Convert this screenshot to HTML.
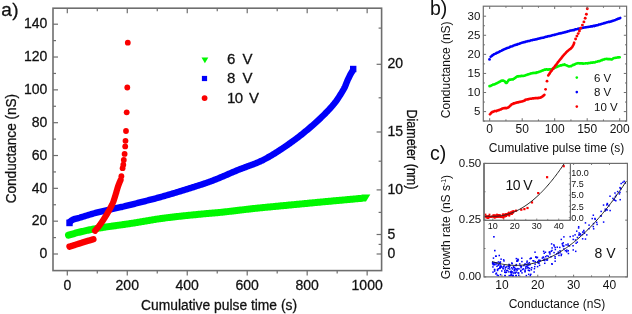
<!DOCTYPE html>
<html><head><meta charset="utf-8"><style>
html,body{margin:0;padding:0;background:#fff;}
svg{display:block;will-change:transform;}
text{font-family:"Liberation Sans",sans-serif;fill:#111;stroke:#111;stroke-width:0;}
.sa{stroke-width:0.28px;}
.sc{stroke-width:0.12px;}
</style></head><body>
<svg width="632" height="314" viewBox="0 0 632 314">
<rect width="632" height="314" fill="#fff"/>
<polyline points="68.5,235.2 69.46,234.91 70.41,234.62 71.37,234.34 72.33,234.06 73.29,233.78 74.25,233.51 75.22,233.24 76.18,232.98 77.14,232.72 78.11,232.47 79.08,232.23 80.05,231.99 81.02,231.75 81.99,231.52 82.96,231.3 83.93,231.07 84.91,230.85 85.88,230.63 86.86,230.42 87.84,230.21 88.81,230 89.79,229.79 90.77,229.59 91.75,229.4 92.73,229.21 93.71,229.02 94.69,228.84 95.68,228.66 96.66,228.48 97.64,228.31 98.62,228.15 99.61,227.98 100.59,227.82 101.58,227.67 102.56,227.51 103.55,227.36 104.54,227.21 105.52,227.06 106.51,226.91 107.5,226.77 108.49,226.63 109.48,226.49 110.47,226.35 111.46,226.21 112.45,226.07 113.44,225.94 114.43,225.8 115.42,225.66 116.41,225.53 117.4,225.39 118.39,225.26 119.38,225.12 120.37,224.99 121.36,224.85 122.35,224.71 123.34,224.57 124.33,224.43 125.32,224.29 126.3,224.15 127.29,224.01 128.28,223.86 129.27,223.71 130.26,223.56 131.24,223.41 132.23,223.25 133.22,223.1 134.2,222.94 135.19,222.78 136.17,222.61 137.16,222.45 138.14,222.28 139.13,222.12 140.11,221.95 141.1,221.79 142.08,221.62 143.07,221.45 144.05,221.28 145.04,221.11 146.02,220.95 147.01,220.78 147.99,220.61 148.98,220.45 149.97,220.28 150.95,220.12 151.94,219.95 152.92,219.79 153.91,219.63 154.89,219.47 155.88,219.32 156.87,219.16 157.85,219.01 158.84,218.86 159.83,218.72 160.82,218.57 161.8,218.43 162.79,218.29 163.78,218.16 164.77,218.03 165.76,217.9 166.75,217.78 167.74,217.65 168.73,217.53 169.72,217.41 170.71,217.29 171.7,217.17 172.7,217.05 173.69,216.94 174.68,216.82 175.67,216.71 176.66,216.6 177.66,216.49 178.65,216.38 179.64,216.27 180.64,216.16 181.63,216.05 182.62,215.95 183.62,215.84 184.61,215.74 185.6,215.64 186.6,215.53 187.59,215.43 188.58,215.33 189.58,215.23 190.57,215.13 191.57,215.03 192.56,214.93 193.55,214.83 194.55,214.73 195.54,214.64 196.54,214.54 197.53,214.44 198.53,214.34 199.52,214.25 200.51,214.15 201.51,214.06 202.5,213.96 203.5,213.87 204.49,213.78 205.49,213.69 206.48,213.61 207.48,213.52 208.47,213.44 209.47,213.35 210.46,213.27 211.46,213.18 212.45,213.09 213.45,213.01 214.44,212.92 215.44,212.83 216.43,212.74 217.43,212.65 218.42,212.55 219.41,212.46 220.41,212.36 221.4,212.26 222.39,212.16 223.39,212.05 224.38,211.94 225.37,211.84 226.36,211.73 227.36,211.62 228.35,211.5 229.34,211.39 230.33,211.27 231.33,211.16 232.32,211.04 233.31,210.92 234.3,210.81 235.29,210.69 236.28,210.57 237.28,210.45 238.27,210.33 239.26,210.21 240.25,210.09 241.24,209.97 242.23,209.85 243.23,209.74 244.22,209.62 245.21,209.5 246.2,209.38 247.19,209.27 248.19,209.15 249.18,209.04 250.17,208.93 251.16,208.82 252.16,208.71 253.15,208.6 254.14,208.49 255.13,208.39 256.13,208.28 257.12,208.18 258.11,208.08 259.11,207.98 260.1,207.87 261.1,207.77 262.09,207.67 263.08,207.58 264.08,207.48 265.07,207.38 266.06,207.28 267.06,207.18 268.05,207.09 269.05,206.99 270.04,206.9 271.03,206.8 272.03,206.71 273.02,206.61 274.02,206.52 275.01,206.42 276.01,206.33 277,206.23 277.99,206.14 278.99,206.05 279.98,205.95 280.98,205.86 281.97,205.76 282.97,205.67 283.96,205.58 284.95,205.48 285.95,205.39 286.94,205.29 287.94,205.2 288.93,205.1 289.93,205.01 290.92,204.91 291.91,204.82 292.91,204.72 293.9,204.63 294.9,204.53 295.89,204.43 296.88,204.34 297.88,204.24 298.87,204.15 299.87,204.05 300.86,203.96 301.86,203.86 302.85,203.77 303.84,203.67 304.84,203.58 305.83,203.48 306.83,203.39 307.82,203.29 308.81,203.2 309.81,203.1 310.8,203.01 311.8,202.91 312.79,202.82 313.79,202.72 314.78,202.63 315.77,202.53 316.77,202.44 317.76,202.35 318.76,202.25 319.75,202.16 320.75,202.06 321.74,201.97 322.73,201.88 323.73,201.78 324.72,201.69 325.72,201.6 326.71,201.51 327.71,201.41 328.7,201.32 329.69,201.23 330.69,201.14 331.68,201.04 332.68,200.95 333.67,200.86 334.67,200.77 335.66,200.68 336.66,200.59 337.65,200.5 338.65,200.41 339.64,200.32 340.64,200.24 341.63,200.15 342.63,200.06 343.62,199.97 344.61,199.88 345.61,199.79 346.6,199.7 347.6,199.61 348.59,199.52 349.59,199.42 350.58,199.33 351.58,199.24 352.57,199.15 353.56,199.05 354.56,198.96 355.55,198.86 356.55,198.77 357.54,198.67 358.54,198.58 359.53,198.48 360.52,198.39" fill="none" stroke="#00f800" stroke-width="7.0" stroke-linecap="round" stroke-linejoin="round"/>
<polygon points="361.5,194.4 370.3,194.4 366.0,201.6 361.5,201.6" fill="#00f800"/>
<polyline points="69.5,222.2 70.34,221.42 71.22,220.69 72.13,220.06 73.08,219.56 74.09,219.17 75.14,218.84 76.22,218.55 77.32,218.28 78.43,218.02 79.52,217.74 80.59,217.43 81.66,217.11 82.73,216.78 83.79,216.45 84.86,216.12 85.92,215.79 86.99,215.46 88.05,215.13 89.12,214.79 90.18,214.47 91.25,214.15 92.32,213.83 93.39,213.52 94.46,213.22 95.53,212.92 96.61,212.64 97.68,212.37 98.76,212.1 99.84,211.83 100.93,211.57 102.01,211.31 103.1,211.06 104.18,210.81 105.27,210.57 106.36,210.33 107.45,210.09 108.53,209.85 109.62,209.61 110.71,209.38 111.8,209.14 112.89,208.91 113.98,208.67 115.08,208.44 116.17,208.2 117.25,207.97 118.34,207.73 119.43,207.49 120.52,207.24 121.61,207 122.69,206.75 123.78,206.49 124.86,206.23 125.95,205.97 127.03,205.71 128.11,205.44 129.19,205.17 130.27,204.9 131.35,204.62 132.43,204.35 133.51,204.07 134.59,203.79 135.67,203.52 136.75,203.24 137.83,202.96 138.91,202.68 139.99,202.4 141.06,202.13 142.14,201.85 143.22,201.58 144.3,201.3 145.39,201.03 146.47,200.75 147.55,200.48 148.63,200.2 149.71,199.93 150.78,199.65 151.86,199.37 152.94,199.09 154.02,198.81 155.1,198.53 156.17,198.24 157.25,197.95 158.33,197.66 159.4,197.37 160.47,197.07 161.55,196.77 162.62,196.47 163.69,196.16 164.76,195.86 165.83,195.55 166.9,195.24 167.97,194.93 169.04,194.62 170.11,194.3 171.18,193.99 172.25,193.67 173.32,193.35 174.38,193.03 175.45,192.71 176.52,192.38 177.58,192.06 178.65,191.73 179.72,191.41 180.78,191.08 181.85,190.75 182.91,190.42 183.98,190.09 185.04,189.76 186.1,189.42 187.17,189.09 188.23,188.76 189.29,188.42 190.35,188.09 191.42,187.75 192.48,187.42 193.54,187.08 194.61,186.75 195.67,186.41 196.73,186.07 197.8,185.73 198.86,185.39 199.92,185.05 200.98,184.7 202.04,184.35 203.1,184 204.15,183.65 205.21,183.29 206.26,182.93 207.31,182.56 208.36,182.19 209.41,181.81 210.45,181.43 211.5,181.05 212.54,180.65 213.57,180.25 214.61,179.85 215.65,179.44 216.68,179.02 217.71,178.6 218.74,178.18 219.77,177.75 220.8,177.32 221.82,176.88 222.85,176.45 223.87,176.01 224.9,175.57 225.92,175.13 226.95,174.69 227.97,174.25 229,173.81 230.02,173.36 231.05,172.92 232.07,172.49 233.1,172.05 234.13,171.61 235.15,171.18 236.18,170.75 237.21,170.33 238.24,169.91 239.28,169.49 240.31,169.08 241.35,168.67 242.4,168.27 243.44,167.88 244.49,167.5 245.55,167.12 246.6,166.74 247.65,166.36 248.71,165.98 249.76,165.6 250.81,165.22 251.86,164.84 252.91,164.45 253.95,164.05 254.98,163.64 256.02,163.23 257.04,162.81 258.06,162.37 259.07,161.93 260.07,161.47 261.07,160.99 262.06,160.51 263.05,160.02 264.03,159.51 265.02,159 266,158.48 266.98,157.95 267.95,157.41 268.93,156.86 269.89,156.31 270.86,155.75 271.83,155.18 272.79,154.6 273.74,154.02 274.7,153.43 275.65,152.84 276.6,152.24 277.55,151.64 278.49,151.03 279.43,150.41 280.37,149.8 281.3,149.18 282.23,148.55 283.16,147.93 284.09,147.3 285.01,146.67 285.93,146.04 286.85,145.4 287.76,144.77 288.67,144.13 289.58,143.5 290.48,142.86 291.39,142.22 292.29,141.57 293.19,140.92 294.09,140.27 294.98,139.61 295.87,138.94 296.77,138.27 297.66,137.6 298.54,136.92 299.43,136.24 300.31,135.55 301.19,134.86 302.07,134.17 302.94,133.47 303.81,132.77 304.68,132.06 305.55,131.36 306.41,130.64 307.27,129.93 308.13,129.21 308.99,128.48 309.84,127.76 310.68,127.03 311.53,126.3 312.37,125.56 313.21,124.82 314.04,124.08 314.87,123.34 315.7,122.59 316.52,121.84 317.34,121.09 318.16,120.33 318.97,119.57 319.77,118.81 320.58,118.05 321.38,117.29 322.18,116.51 322.98,115.74 323.78,114.96 324.58,114.17 325.37,113.38 326.16,112.58 326.94,111.78 327.72,110.97 328.49,110.16 329.25,109.34 330.01,108.52 330.76,107.69 331.5,106.85 332.23,106.01 332.95,105.16 333.66,104.31 334.36,103.45 335.05,102.58 335.73,101.7 336.38,100.81 337.02,99.9 337.65,98.98 338.27,98.05 338.87,97.11 339.47,96.16 340.06,95.22 340.66,94.27 341.25,93.33 341.84,92.38 342.43,91.43 343,90.47 343.55,89.5 344.08,88.52 344.58,87.53 345.05,86.53 345.48,85.5 345.9,84.47 346.3,83.43 346.71,82.39 347.13,81.35 347.58,80.33 348.03,79.32 348.5,78.3 348.98,77.29 349.47,76.29 349.98,75.3 350.5,74.32 351.04,73.35 351.61,72.39 352.2,71.44 352.8,70.5" fill="none" stroke="#0000fa" stroke-width="6.4" stroke-linecap="butt" stroke-linejoin="round"/>
<rect x="350.0" y="65.8" width="6.4" height="6.4" fill="#0000fa"/>
<rect x="66.3" y="219.6" width="6.4" height="6.6" fill="#0000fa"/>
<polyline points="69.5,246.6 69.9,246.47 70.31,246.35 70.71,246.22 71.12,246.09 71.52,245.97 71.93,245.84 72.33,245.71 72.74,245.59 73.14,245.46 73.55,245.33 73.95,245.21 74.36,245.08 74.76,244.95 75.17,244.83 75.57,244.7 75.98,244.57 76.38,244.45 76.79,244.32 77.19,244.2 77.6,244.07 78,243.94 78.41,243.82 78.81,243.69 79.22,243.57 79.62,243.44 80.03,243.32 80.43,243.19 80.84,243.07 81.24,242.94 81.65,242.81 82.05,242.69 82.46,242.56 82.86,242.44 83.27,242.31 83.67,242.19 84.08,242.06 84.48,241.94 84.89,241.81 85.29,241.69 85.7,241.56 86.1,241.44 86.51,241.31 86.91,241.19 87.32,241.06 87.72,240.94 88.13,240.81 88.53,240.69 88.94,240.57 89.35,240.44 89.75,240.32 90.16,240.19 90.56,240.07 90.97,239.94 91.37,239.82 91.78,239.7 92.18,239.57 92.59,239.45 92.99,239.32 93.4,239.2" fill="none" stroke="#fa0000" stroke-width="6.4" stroke-linecap="round" stroke-linejoin="round"/>
<polyline points="95,230.8 95.49,230.26 95.97,229.71 96.45,229.16 96.92,228.61 97.39,228.05 97.85,227.49 98.31,226.93 98.76,226.36 99.21,225.78 99.64,225.21 100.08,224.63 100.5,224.04 100.92,223.45 101.34,222.85 101.74,222.25 102.15,221.64 102.55,221.04 102.95,220.43 103.34,219.81 103.74,219.2 104.13,218.59 104.52,217.98 104.9,217.36 105.29,216.75 105.68,216.13 106.07,215.51 106.45,214.9 106.83,214.28 107.21,213.65 107.58,213.03 107.95,212.4 108.31,211.77 108.67,211.14 109.02,210.51 109.37,209.87 109.71,209.23 110.06,208.59 110.4,207.95 110.74,207.3 111.07,206.65 111.4,206 111.72,205.35 112.03,204.69 112.34,204.03 112.63,203.36 112.92,202.7 113.19,202.03 113.45,201.35 113.69,200.67 113.93,199.99 114.16,199.3 114.38,198.6 114.6,197.91 114.82,197.21 115.03,196.52 115.25,195.82 115.46,195.12 115.68,194.43 115.89,193.73 116.09,193.04 116.29,192.34 116.49,191.64 116.69,190.94 116.89,190.24 117.09,189.54 117.3,188.84 117.5,188.15 117.72,187.45 117.94,186.76 118.17,186.07 118.42,185.39 118.66,184.71 118.92,184.03 119.19,183.35 119.46,182.68 119.74,182.01 120.02,181.34 120.31,180.67 120.6,180" fill="none" stroke="#fa0000" stroke-width="6.2" stroke-linecap="round" stroke-linejoin="round"/>
<circle cx="121.4" cy="176.2" r="2.9" fill="#fa0000"/>
<circle cx="122.6" cy="168.2" r="2.9" fill="#fa0000"/>
<circle cx="123.3" cy="164.7" r="2.9" fill="#fa0000"/>
<circle cx="123.8" cy="159.9" r="2.9" fill="#fa0000"/>
<circle cx="124.6" cy="153.9" r="2.9" fill="#fa0000"/>
<circle cx="125.2" cy="146.4" r="2.9" fill="#fa0000"/>
<circle cx="125.5" cy="140.8" r="2.9" fill="#fa0000"/>
<circle cx="126" cy="131" r="2.9" fill="#fa0000"/>
<circle cx="126.7" cy="112.3" r="2.9" fill="#fa0000"/>
<circle cx="127.3" cy="87.5" r="2.9" fill="#fa0000"/>
<circle cx="127.8" cy="42.7" r="2.9" fill="#fa0000"/>
<rect x="53.0" y="8.2" width="328.6" height="262.4" fill="none" stroke="#6e6e6e" stroke-width="1.6"/>
<line x1="53" y1="254" x2="58" y2="254" stroke="#6e6e6e" stroke-width="1.2"/>
<line x1="53" y1="237.59" x2="56" y2="237.59" stroke="#6e6e6e" stroke-width="1.2"/>
<line x1="53" y1="221.17" x2="58" y2="221.17" stroke="#6e6e6e" stroke-width="1.2"/>
<line x1="53" y1="204.76" x2="56" y2="204.76" stroke="#6e6e6e" stroke-width="1.2"/>
<line x1="53" y1="188.34" x2="58" y2="188.34" stroke="#6e6e6e" stroke-width="1.2"/>
<line x1="53" y1="171.93" x2="56" y2="171.93" stroke="#6e6e6e" stroke-width="1.2"/>
<line x1="53" y1="155.52" x2="58" y2="155.52" stroke="#6e6e6e" stroke-width="1.2"/>
<line x1="53" y1="139.1" x2="56" y2="139.1" stroke="#6e6e6e" stroke-width="1.2"/>
<line x1="53" y1="122.69" x2="58" y2="122.69" stroke="#6e6e6e" stroke-width="1.2"/>
<line x1="53" y1="106.27" x2="56" y2="106.27" stroke="#6e6e6e" stroke-width="1.2"/>
<line x1="53" y1="89.86" x2="58" y2="89.86" stroke="#6e6e6e" stroke-width="1.2"/>
<line x1="53" y1="73.45" x2="56" y2="73.45" stroke="#6e6e6e" stroke-width="1.2"/>
<line x1="53" y1="57.03" x2="58" y2="57.03" stroke="#6e6e6e" stroke-width="1.2"/>
<line x1="53" y1="40.62" x2="56" y2="40.62" stroke="#6e6e6e" stroke-width="1.2"/>
<line x1="53" y1="24.2" x2="58" y2="24.2" stroke="#6e6e6e" stroke-width="1.2"/>
<line x1="67.3" y1="270.6" x2="67.3" y2="275.6" stroke="#6e6e6e" stroke-width="1.2"/>
<line x1="67.3" y1="8.2" x2="67.3" y2="13.2" stroke="#6e6e6e" stroke-width="1.2"/>
<line x1="97.28" y1="270.6" x2="97.28" y2="273.6" stroke="#6e6e6e" stroke-width="1.2"/>
<line x1="97.28" y1="8.2" x2="97.28" y2="11.2" stroke="#6e6e6e" stroke-width="1.2"/>
<line x1="127.27" y1="270.6" x2="127.27" y2="275.6" stroke="#6e6e6e" stroke-width="1.2"/>
<line x1="127.27" y1="8.2" x2="127.27" y2="13.2" stroke="#6e6e6e" stroke-width="1.2"/>
<line x1="157.25" y1="270.6" x2="157.25" y2="273.6" stroke="#6e6e6e" stroke-width="1.2"/>
<line x1="157.25" y1="8.2" x2="157.25" y2="11.2" stroke="#6e6e6e" stroke-width="1.2"/>
<line x1="187.24" y1="270.6" x2="187.24" y2="275.6" stroke="#6e6e6e" stroke-width="1.2"/>
<line x1="187.24" y1="8.2" x2="187.24" y2="13.2" stroke="#6e6e6e" stroke-width="1.2"/>
<line x1="217.23" y1="270.6" x2="217.23" y2="273.6" stroke="#6e6e6e" stroke-width="1.2"/>
<line x1="217.23" y1="8.2" x2="217.23" y2="11.2" stroke="#6e6e6e" stroke-width="1.2"/>
<line x1="247.21" y1="270.6" x2="247.21" y2="275.6" stroke="#6e6e6e" stroke-width="1.2"/>
<line x1="247.21" y1="8.2" x2="247.21" y2="13.2" stroke="#6e6e6e" stroke-width="1.2"/>
<line x1="277.19" y1="270.6" x2="277.19" y2="273.6" stroke="#6e6e6e" stroke-width="1.2"/>
<line x1="277.19" y1="8.2" x2="277.19" y2="11.2" stroke="#6e6e6e" stroke-width="1.2"/>
<line x1="307.18" y1="270.6" x2="307.18" y2="275.6" stroke="#6e6e6e" stroke-width="1.2"/>
<line x1="307.18" y1="8.2" x2="307.18" y2="13.2" stroke="#6e6e6e" stroke-width="1.2"/>
<line x1="337.17" y1="270.6" x2="337.17" y2="273.6" stroke="#6e6e6e" stroke-width="1.2"/>
<line x1="337.17" y1="8.2" x2="337.17" y2="11.2" stroke="#6e6e6e" stroke-width="1.2"/>
<line x1="367.15" y1="270.6" x2="367.15" y2="275.6" stroke="#6e6e6e" stroke-width="1.2"/>
<line x1="367.15" y1="8.2" x2="367.15" y2="13.2" stroke="#6e6e6e" stroke-width="1.2"/>
<line x1="376.6" y1="254" x2="381.6" y2="254" stroke="#6e6e6e" stroke-width="1.2"/>
<line x1="376.6" y1="234.5" x2="381.6" y2="234.5" stroke="#6e6e6e" stroke-width="1.2"/>
<line x1="376.6" y1="189.9" x2="381.6" y2="189.9" stroke="#6e6e6e" stroke-width="1.2"/>
<line x1="376.6" y1="132" x2="381.6" y2="132" stroke="#6e6e6e" stroke-width="1.2"/>
<line x1="376.6" y1="64.3" x2="381.6" y2="64.3" stroke="#6e6e6e" stroke-width="1.2"/>
<line x1="378.6" y1="244.4" x2="381.6" y2="244.4" stroke="#6e6e6e" stroke-width="1.2"/>
<line x1="378.6" y1="212.4" x2="381.6" y2="212.4" stroke="#6e6e6e" stroke-width="1.2"/>
<line x1="378.6" y1="161.2" x2="381.6" y2="161.2" stroke="#6e6e6e" stroke-width="1.2"/>
<line x1="378.6" y1="97.8" x2="381.6" y2="97.8" stroke="#6e6e6e" stroke-width="1.2"/>
<line x1="378.6" y1="28.1" x2="381.6" y2="28.1" stroke="#6e6e6e" stroke-width="1.2"/>
<text class="sa" x="47.4" y="258.2" font-size="14" text-anchor="end" >0</text>
<text class="sa" x="47.4" y="225.37" font-size="14" text-anchor="end" >20</text>
<text class="sa" x="47.4" y="192.54" font-size="14" text-anchor="end" >40</text>
<text class="sa" x="47.4" y="159.72" font-size="14" text-anchor="end" >60</text>
<text class="sa" x="47.4" y="126.89" font-size="14" text-anchor="end" >80</text>
<text class="sa" x="47.4" y="94.06" font-size="14" text-anchor="end" >100</text>
<text class="sa" x="47.4" y="61.23" font-size="14" text-anchor="end" >120</text>
<text class="sa" x="47.4" y="28.4" font-size="14" text-anchor="end" >140</text>
<text class="sa" x="67.3" y="290.4" font-size="14" text-anchor="middle" >0</text>
<text class="sa" x="127.27" y="290.4" font-size="14" text-anchor="middle" >200</text>
<text class="sa" x="187.24" y="290.4" font-size="14" text-anchor="middle" >400</text>
<text class="sa" x="247.21" y="290.4" font-size="14" text-anchor="middle" >600</text>
<text class="sa" x="307.18" y="290.4" font-size="14" text-anchor="middle" >800</text>
<text class="sa" x="367.15" y="290.4" font-size="14" text-anchor="middle" >1000</text>
<text class="sa" x="387.4" y="258" font-size="14" text-anchor="start" >0</text>
<text class="sa" x="387.4" y="238.5" font-size="14" text-anchor="start" >5</text>
<text class="sa" x="387.4" y="193.9" font-size="14" text-anchor="start" >10</text>
<text class="sa" x="387.4" y="136" font-size="14" text-anchor="start" >15</text>
<text class="sa" x="387.4" y="68.3" font-size="14" text-anchor="start" >20</text>
<text class="sa" x="141" y="309.9" font-size="14" text-anchor="start" textLength="156" lengthAdjust="spacingAndGlyphs">Cumulative pulse time (s)</text>
<text class="sa" x="0" y="0" font-size="14" text-anchor="middle" textLength="109.5" lengthAdjust="spacingAndGlyphs" transform="translate(16.3,148.6) rotate(-90)">Conductance (nS)</text>
<text class="sa" x="0" y="0" font-size="14" text-anchor="middle" textLength="80" lengthAdjust="spacingAndGlyphs" transform="translate(407.3,149.45) rotate(90)">Diameter (nm)</text>
<text class="sa" x="1.2" y="15.9" font-size="19" text-anchor="start" letter-spacing="0.6">a)</text>
<polygon points="201.5,57.4 208.3,57.4 204.9,63.2" fill="#00f800"/>
<rect x="201.9" y="75.9" width="5.2" height="5.2" fill="#0000fa"/>
<circle cx="204.6" cy="98.1" r="2.9" fill="#fa0000"/>
<text class="sa" x="227" y="64.4" font-size="15" text-anchor="start" word-spacing="3">6 V</text>
<text class="sa" x="227" y="83.4" font-size="15" text-anchor="start" word-spacing="3">8 V</text>
<text class="sa" x="227" y="103" font-size="15" text-anchor="start" word-spacing="3" textLength="32">10 V</text>
<polyline points="490.7,56.7 491.38,56.21 492.07,55.63 492.77,55.07 493.49,54.66 494.21,54.16 494.95,53.87 495.71,53.62 496.47,53.02 497.25,52.63 498.02,52.4 498.79,52.01 499.56,51.61 500.33,51.12 501.1,50.87 501.88,50.59 502.65,49.99 503.43,49.75 504.21,49.23 505,48.96 505.78,48.55 506.57,48.42 507.36,47.97 508.15,47.83 508.94,47.51 509.73,47.15 510.53,46.56 511.32,46.49 512.12,46.24 512.92,45.96 513.72,45.46 514.52,45.29 515.33,44.93 516.13,44.66 516.94,44.6 517.75,44.1 518.56,43.91 519.37,43.75 520.18,43.31 520.99,43.1 521.8,42.87 522.62,42.62 523.43,42.22 524.25,42.14 525.07,42.06 525.89,41.49 526.71,41.56 527.54,41.25 528.36,40.95 529.19,41.06 530.02,40.71 530.85,40.28 531.68,40.23 532.51,40.1 533.35,39.82 534.18,39.73 535.02,39.46 535.85,39.36 536.68,39.26 537.52,38.82 538.35,38.74 539.19,38.47 540.02,38.35 540.85,38 541.69,37.88 542.52,37.73 543.35,37.67 544.18,37.49 545.01,36.99 545.84,36.85 546.67,36.82 547.49,36.3 548.32,36.27 549.15,36.11 549.98,36.06 550.81,35.79 551.64,35.46 552.46,35.24 553.29,35.05 554.12,35.05 554.95,34.61 555.77,34.42 556.6,34.29 557.43,34.02 558.26,33.8 559.09,33.49 559.91,33.41 560.74,33.15 561.57,33.14 562.4,32.87 563.23,32.59 564.06,32.47 564.89,32.14 565.72,32.1 566.54,31.76 567.37,31.62 568.2,31.19 569.03,31.17 569.86,30.71 570.68,30.46 571.51,30.45 572.34,30.17 573.17,30.09 574,30.13 574.83,29.55 575.65,29.37 576.48,29.27 577.31,29.1 578.15,28.82 578.98,28.63 579.81,28.55 580.64,28.34 581.48,27.98 582.31,27.92 583.15,27.77 583.98,27.48 584.82,27.48 585.66,27.21 586.51,27.3 587.35,27.08 588.2,26.94 589.05,26.74 589.9,26.68 590.74,26.33 591.58,26.3 592.43,26.34 593.26,25.89 594.1,26.08 594.93,25.59 595.76,25.69 596.58,25.28 597.4,25.25 598.22,24.93 599.04,24.49 599.86,24.57 600.68,24.35 601.5,23.92 602.32,23.64 603.14,23.42 603.96,23.09 604.79,23.12 605.62,22.71 606.45,22.57 607.28,22.27 608.11,22.09 608.94,21.8 609.76,21.89 610.59,21.5 611.4,21.4 612.22,21.03 613.03,20.69 613.84,20.46 614.64,20.15 615.44,19.93 616.24,19.58 617.04,19.28 617.83,18.84 618.63,18.58 619.41,18.54 620.2,17.92" fill="none" stroke="#0000fa" stroke-width="2.6" stroke-linecap="round" stroke-linejoin="round"/>
<circle cx="489.5" cy="59.4" r="1.4" fill="#0000fa"/>
<polyline points="489.5,86.14 490.14,86.09 490.78,85.98 491.42,85.29 492.07,85.21 492.71,84.88 493.35,84.44 493.99,84.55 494.63,84.17 495.27,83.92 495.91,83.53 496.55,83.44 497.18,83.01 497.82,82.79 498.45,82.36 499.08,82 499.7,81.99 500.31,81.31 500.93,81.06 501.55,80.71 502.18,80.47 502.82,80.44 503.5,80.8 504.15,80.97 504.74,81.35 505.26,81.95 505.76,82.75 506.23,83.07 506.7,82.97 507.14,82.39 507.56,81.61 507.97,81.2 508.41,80.48 508.89,79.78 509.42,79.66 510.05,79.62 510.76,79.58 511.5,79.55 512.23,79.29 512.88,79.49 513.5,78.83 514.08,78.76 514.65,78.24 515.21,77.8 515.78,77.49 516.37,77.06 516.98,76.43 517.63,76.23 518.29,76.51 518.97,76.15 519.67,76.24 520.37,76.31 521.08,75.88 521.79,75.75 522.5,76.04 523.19,75.93 523.88,75.78 524.55,75.7 525.21,75.39 525.87,75.08 526.53,75.05 527.18,74.68 527.84,74.32 528.49,74.39 529.14,74.06 529.8,73.91 530.47,73.51 531.14,73.4 531.82,73.21 532.5,73.1 533.19,73.15 533.88,72.89 534.57,72.96 535.26,72.85 535.94,72.99 536.63,72.35 537.31,72.56 537.98,72.27 538.64,72.1 539.29,71.66 539.94,71.54 540.58,71.42 541.22,70.99 541.86,70.72 542.5,70.39 543.15,70.38 543.81,70.03 544.48,69.6 545.16,69.74 545.85,69.47 546.55,69.22 547.25,69.58 547.95,69.81 548.65,69.56 549.34,69.31 550.03,69.26 550.7,69.47 551.36,69.18 552.01,68.96 552.66,68.7 553.3,68.43 553.94,68.25 554.57,67.91 555.21,67.56 555.85,67.09 556.5,67.08 557.16,66.66 557.82,66.66 558.48,66.04 559.14,65.94 559.81,65.69 560.47,65.24 561.14,65.47 561.8,65.24 562.47,64.79 563.14,64.87 563.8,64.76 564.46,64.34 565.13,64.92 565.79,65.12 566.46,65.43 567.13,65.55 567.79,65.94 568.45,66.16 569.12,66.47 569.77,66.33 570.43,66.17 571.08,66.21 571.73,65.66 572.38,65.39 573.03,64.86 573.68,65.03 574.33,64.6 574.99,64.27 575.64,63.94 576.3,63.6 576.96,63.41 577.63,63.21 578.3,63.17 578.98,63.23 579.67,63.49 580.36,63.4 581.06,63.38 581.76,63.36 582.45,63.39 583.15,63.74 583.84,63.57 584.53,63.48 585.23,63.39 585.92,63.23 586.61,63.33 587.31,63.41 588,63.15 588.69,63.09 589.39,63.01 590.08,62.97 590.76,62.63 591.45,62.74 592.13,62.55 592.82,62.72 593.5,62.36 594.17,62.44 594.85,62.44 595.52,62 596.2,61.79 596.87,61.73 597.54,61.51 598.21,61.16 598.87,61.18 599.54,61.21 600.21,60.66 600.87,60.46 601.54,60.13 602.21,60.13 602.87,59.69 603.53,59.46 604.19,59.54 604.84,58.95 605.51,59.06 606.17,59.03 606.85,58.86 607.54,58.98 608.24,59.31 608.94,59.11 609.63,59.17 610.32,59.15 610.99,59.41 611.65,59.53 612.29,59.18 612.92,58.54 613.55,58.22 614.21,58.07 614.87,58.03 615.54,57.81 616.22,57.73 616.9,57.62 617.59,57.42 618.29,57.37 618.99,57.35 619.7,57.29" fill="none" stroke="#00f800" stroke-width="2.6" stroke-linecap="round" stroke-linejoin="round"/>
<polyline points="489.9,114.26 490.27,114.05 490.64,113.54 491.02,113.13 491.41,112.59 491.82,112.53 492.22,111.97 492.64,111.78 493.06,111.83 493.5,111.62 493.94,111.36 494.4,111.04 494.88,111.09 495.36,110.95 495.86,111.01 496.36,111.11 496.86,110.77 497.35,110.55 497.84,110.39 498.31,110.39 498.78,110.21 499.24,109.9 499.7,109.84 500.15,109.46 500.6,109.5 501.05,109.27 501.5,109.05 501.96,108.67 502.42,108.63 502.88,108.43 503.36,108.31 503.86,108.26 504.36,108.1 504.87,108.04 505.38,108.27 505.88,108.11 506.36,108.11 506.83,108.13 507.27,107.7 507.7,107.64 508.11,107.53 508.51,107.28 508.9,106.88 509.29,106.71 509.67,106.25 510.05,105.71 510.44,105.37 510.82,105.22 511.21,104.83 511.61,104.23 512.02,104.33 512.44,103.99 512.88,103.89 513.33,103.51 513.79,103.36 514.26,103.1 514.74,103.4 515.22,102.94 515.71,103.02 516.2,102.63 516.68,102.6 517.17,102.26 517.65,102.29 518.13,102.34 518.62,101.97 519.12,102.15 519.62,101.97 520.11,101.72 520.61,101.69 521.11,101.61 521.6,101.56 522.08,101.4 522.56,101.25 523.03,101.18 523.49,100.96 523.94,100.77 524.37,100.7 524.78,100.5 525.18,99.9 525.61,99.84 526.05,99.61 526.5,99.44 526.97,99.53 527.44,99.25 527.92,99.38 528.4,99 528.89,99.05 529.38,98.88 529.88,98.74 530.38,98.82 530.88,98.66 531.39,98.68 531.89,98.54 532.4,98.36 532.9,98.42 533.4,98.39 533.9,98.45 534.39,98.18 534.89,98.25 535.39,98.02 535.9,98.28 536.4,98.05 536.91,97.94 537.41,98.12 537.9,98.24 538.39,97.89 538.86,97.9 539.32,97.88 539.78,97.74 540.22,97.78 540.67,97.47 541.11,97.27 541.54,97.19 541.97,96.76 542.39,96.61 542.8,96.12 543.21,95.75 543.62,95.33 544.01,95.4 544.4,94.76" fill="none" stroke="#fa0000" stroke-width="2.6" stroke-linecap="round" stroke-linejoin="round"/>
<circle cx="545.6" cy="89.3" r="1.4" fill="#fa0000"/>
<circle cx="547" cy="81.2" r="1.4" fill="#fa0000"/>
<polyline points="548.2,75.42 548.55,74.9 548.9,74.42 549.26,73.92 549.61,73.61 549.96,72.82 550.32,72.28 550.68,71.84 551.04,71.32 551.39,71.04 551.75,70.55 552.12,69.89 552.48,69.36 552.84,68.97 553.21,68.66 553.57,67.75 553.94,67.6 554.3,66.96 554.67,66.69 555.04,65.99 555.41,65.59 555.78,64.98 556.15,64.55 556.52,64.31 556.89,63.77 557.26,63.17 557.63,62.64 558.01,62.06 558.38,61.73 558.76,61.29 559.14,60.81 559.51,60.33 559.89,59.75 560.27,59.38 560.64,58.9 561.02,58.56 561.4,58.14 561.78,57.46 562.16,56.92 562.55,56.52 562.94,56 563.33,55.52 563.72,55.13 564.12,54.58 564.52,54.29 564.93,53.77 565.35,53.36 565.77,52.88 566.19,52.39 566.62,51.94 567.06,51.59 567.5,51.14 567.95,50.81 568.41,50.38 568.88,49.86 569.38,49.64 569.9,49.15 570.4,48.86 570.86,48.51 571.26,47.92 571.63,47.69 571.99,47.24 572.33,46.72 572.66,46.19 572.98,45.68 573.27,45.07 573.54,44.58 573.79,43.97 574.01,43.43 574.2,42.68" fill="none" stroke="#fa0000" stroke-width="2.6" stroke-linecap="round" stroke-linejoin="round"/>
<circle cx="575.6" cy="39" r="1.45" fill="#fa0000"/>
<circle cx="576.9" cy="36.1" r="1.45" fill="#fa0000"/>
<circle cx="578.2" cy="33.6" r="1.45" fill="#fa0000"/>
<circle cx="579.4" cy="31" r="1.45" fill="#fa0000"/>
<circle cx="580.7" cy="28.3" r="1.45" fill="#fa0000"/>
<circle cx="582.4" cy="25.1" r="1.45" fill="#fa0000"/>
<circle cx="583.9" cy="21.9" r="1.45" fill="#fa0000"/>
<circle cx="585.2" cy="18.3" r="1.45" fill="#fa0000"/>
<circle cx="586.4" cy="14.3" r="1.45" fill="#fa0000"/>
<circle cx="587.3" cy="8.8" r="1.45" fill="#fa0000"/>
<rect x="483.3" y="6.2" width="143.3" height="114.8" fill="none" stroke="#6e6e6e" stroke-width="1.2"/>
<line x1="489.7" y1="121" x2="489.7" y2="118.2" stroke="#6e6e6e" stroke-width="1.0"/>
<line x1="489.7" y1="6.2" x2="489.7" y2="9" stroke="#6e6e6e" stroke-width="1.0"/>
<line x1="505.95" y1="121" x2="505.95" y2="119.4" stroke="#6e6e6e" stroke-width="1.0"/>
<line x1="505.95" y1="6.2" x2="505.95" y2="7.8" stroke="#6e6e6e" stroke-width="1.0"/>
<line x1="522.2" y1="121" x2="522.2" y2="118.2" stroke="#6e6e6e" stroke-width="1.0"/>
<line x1="522.2" y1="6.2" x2="522.2" y2="9" stroke="#6e6e6e" stroke-width="1.0"/>
<line x1="538.45" y1="121" x2="538.45" y2="119.4" stroke="#6e6e6e" stroke-width="1.0"/>
<line x1="538.45" y1="6.2" x2="538.45" y2="7.8" stroke="#6e6e6e" stroke-width="1.0"/>
<line x1="554.7" y1="121" x2="554.7" y2="118.2" stroke="#6e6e6e" stroke-width="1.0"/>
<line x1="554.7" y1="6.2" x2="554.7" y2="9" stroke="#6e6e6e" stroke-width="1.0"/>
<line x1="570.95" y1="121" x2="570.95" y2="119.4" stroke="#6e6e6e" stroke-width="1.0"/>
<line x1="570.95" y1="6.2" x2="570.95" y2="7.8" stroke="#6e6e6e" stroke-width="1.0"/>
<line x1="587.2" y1="121" x2="587.2" y2="118.2" stroke="#6e6e6e" stroke-width="1.0"/>
<line x1="587.2" y1="6.2" x2="587.2" y2="9" stroke="#6e6e6e" stroke-width="1.0"/>
<line x1="603.45" y1="121" x2="603.45" y2="119.4" stroke="#6e6e6e" stroke-width="1.0"/>
<line x1="603.45" y1="6.2" x2="603.45" y2="7.8" stroke="#6e6e6e" stroke-width="1.0"/>
<line x1="619.7" y1="121" x2="619.7" y2="118.2" stroke="#6e6e6e" stroke-width="1.0"/>
<line x1="619.7" y1="6.2" x2="619.7" y2="9" stroke="#6e6e6e" stroke-width="1.0"/>
<line x1="483.3" y1="121.14" x2="484.9" y2="121.14" stroke="#6e6e6e" stroke-width="1.0"/>
<line x1="626.6" y1="121.14" x2="625" y2="121.14" stroke="#6e6e6e" stroke-width="1.0"/>
<line x1="483.3" y1="111.6" x2="486.1" y2="111.6" stroke="#6e6e6e" stroke-width="1.0"/>
<line x1="626.6" y1="111.6" x2="623.8" y2="111.6" stroke="#6e6e6e" stroke-width="1.0"/>
<line x1="483.3" y1="102.06" x2="484.9" y2="102.06" stroke="#6e6e6e" stroke-width="1.0"/>
<line x1="626.6" y1="102.06" x2="625" y2="102.06" stroke="#6e6e6e" stroke-width="1.0"/>
<line x1="483.3" y1="92.52" x2="486.1" y2="92.52" stroke="#6e6e6e" stroke-width="1.0"/>
<line x1="626.6" y1="92.52" x2="623.8" y2="92.52" stroke="#6e6e6e" stroke-width="1.0"/>
<line x1="483.3" y1="82.98" x2="484.9" y2="82.98" stroke="#6e6e6e" stroke-width="1.0"/>
<line x1="626.6" y1="82.98" x2="625" y2="82.98" stroke="#6e6e6e" stroke-width="1.0"/>
<line x1="483.3" y1="73.44" x2="486.1" y2="73.44" stroke="#6e6e6e" stroke-width="1.0"/>
<line x1="626.6" y1="73.44" x2="623.8" y2="73.44" stroke="#6e6e6e" stroke-width="1.0"/>
<line x1="483.3" y1="63.9" x2="484.9" y2="63.9" stroke="#6e6e6e" stroke-width="1.0"/>
<line x1="626.6" y1="63.9" x2="625" y2="63.9" stroke="#6e6e6e" stroke-width="1.0"/>
<line x1="483.3" y1="54.36" x2="486.1" y2="54.36" stroke="#6e6e6e" stroke-width="1.0"/>
<line x1="626.6" y1="54.36" x2="623.8" y2="54.36" stroke="#6e6e6e" stroke-width="1.0"/>
<line x1="483.3" y1="44.82" x2="484.9" y2="44.82" stroke="#6e6e6e" stroke-width="1.0"/>
<line x1="626.6" y1="44.82" x2="625" y2="44.82" stroke="#6e6e6e" stroke-width="1.0"/>
<line x1="483.3" y1="35.28" x2="486.1" y2="35.28" stroke="#6e6e6e" stroke-width="1.0"/>
<line x1="626.6" y1="35.28" x2="623.8" y2="35.28" stroke="#6e6e6e" stroke-width="1.0"/>
<line x1="483.3" y1="25.74" x2="484.9" y2="25.74" stroke="#6e6e6e" stroke-width="1.0"/>
<line x1="626.6" y1="25.74" x2="625" y2="25.74" stroke="#6e6e6e" stroke-width="1.0"/>
<line x1="483.3" y1="16.2" x2="486.1" y2="16.2" stroke="#6e6e6e" stroke-width="1.0"/>
<line x1="626.6" y1="16.2" x2="623.8" y2="16.2" stroke="#6e6e6e" stroke-width="1.0"/>
<text class="sb" x="480.3" y="114.9" font-size="11.5" text-anchor="end" >5</text>
<text class="sb" x="480.3" y="95.82" font-size="11.5" text-anchor="end" >10</text>
<text class="sb" x="480.3" y="76.74" font-size="11.5" text-anchor="end" >15</text>
<text class="sb" x="480.3" y="57.66" font-size="11.5" text-anchor="end" >20</text>
<text class="sb" x="480.3" y="38.58" font-size="11.5" text-anchor="end" >25</text>
<text class="sb" x="480.3" y="19.5" font-size="11.5" text-anchor="end" >30</text>
<text class="sb" x="489.7" y="132.9" font-size="12" text-anchor="middle" >0</text>
<text class="sb" x="522.2" y="132.9" font-size="12" text-anchor="middle" >50</text>
<text class="sb" x="554.7" y="132.9" font-size="12" text-anchor="middle" >100</text>
<text class="sb" x="587.2" y="132.9" font-size="12" text-anchor="middle" >150</text>
<text class="sb" x="619.7" y="132.9" font-size="12" text-anchor="middle" >200</text>
<text class="sb" x="488.8" y="152" font-size="12" text-anchor="start" >Cumulative pulse time (s)</text>
<text x="0" y="0" font-size="12" text-anchor="middle" transform="translate(449.6,69.8) rotate(-90)">Conductance (nS)</text>
<text class="sb" x="430" y="15.2" font-size="19.5" text-anchor="start" >b)</text>
<circle cx="576.8" cy="77.6" r="1.3" fill="#00f800"/>
<circle cx="576.8" cy="92.1" r="1.3" fill="#0000fa"/>
<circle cx="576.8" cy="106.6" r="1.3" fill="#fa0000"/>
<text class="sb" x="594" y="81.5" font-size="11.5" text-anchor="start" >6 V</text>
<text class="sb" x="594" y="95.9" font-size="11.5" text-anchor="start" >8 V</text>
<text class="sb" x="594" y="110.6" font-size="11.5" text-anchor="start" >10 V</text>
<rect x="492.16" y="266.18" width="1.5" height="1.5" fill="#0000fa"/>
<rect x="504.35" y="274.85" width="1.5" height="1.5" fill="#0000fa"/>
<rect x="496.23" y="265.56" width="1.5" height="1.5" fill="#0000fa"/>
<rect x="499.17" y="261.83" width="1.5" height="1.5" fill="#0000fa"/>
<rect x="513.54" y="269.24" width="1.5" height="1.5" fill="#0000fa"/>
<rect x="496.81" y="268.71" width="1.5" height="1.5" fill="#0000fa"/>
<rect x="508.72" y="264.06" width="1.5" height="1.5" fill="#0000fa"/>
<rect x="502.92" y="259.08" width="1.5" height="1.5" fill="#0000fa"/>
<rect x="503.23" y="260.22" width="1.5" height="1.5" fill="#0000fa"/>
<rect x="514.21" y="272.11" width="1.5" height="1.5" fill="#0000fa"/>
<rect x="496.18" y="262.25" width="1.5" height="1.5" fill="#0000fa"/>
<rect x="517.15" y="267.88" width="1.5" height="1.5" fill="#0000fa"/>
<rect x="516.32" y="269.74" width="1.5" height="1.5" fill="#0000fa"/>
<rect x="510.13" y="271.7" width="1.5" height="1.5" fill="#0000fa"/>
<rect x="493.11" y="263.59" width="1.5" height="1.5" fill="#0000fa"/>
<rect x="509.99" y="271.07" width="1.5" height="1.5" fill="#0000fa"/>
<rect x="508.26" y="263.7" width="1.5" height="1.5" fill="#0000fa"/>
<rect x="512.99" y="266.74" width="1.5" height="1.5" fill="#0000fa"/>
<rect x="497.63" y="261.23" width="1.5" height="1.5" fill="#0000fa"/>
<rect x="517.97" y="274.48" width="1.5" height="1.5" fill="#0000fa"/>
<rect x="516.12" y="268.5" width="1.5" height="1.5" fill="#0000fa"/>
<rect x="494.89" y="262.01" width="1.5" height="1.5" fill="#0000fa"/>
<rect x="500.42" y="265.34" width="1.5" height="1.5" fill="#0000fa"/>
<rect x="492.64" y="264.04" width="1.5" height="1.5" fill="#0000fa"/>
<rect x="514.6" y="272.29" width="1.5" height="1.5" fill="#0000fa"/>
<rect x="516.92" y="260.33" width="1.5" height="1.5" fill="#0000fa"/>
<rect x="518.97" y="263.15" width="1.5" height="1.5" fill="#0000fa"/>
<rect x="508.58" y="266.4" width="1.5" height="1.5" fill="#0000fa"/>
<rect x="510.06" y="274.85" width="1.5" height="1.5" fill="#0000fa"/>
<rect x="510.41" y="273.47" width="1.5" height="1.5" fill="#0000fa"/>
<rect x="507.43" y="267.67" width="1.5" height="1.5" fill="#0000fa"/>
<rect x="517.94" y="272.29" width="1.5" height="1.5" fill="#0000fa"/>
<rect x="508.47" y="274.85" width="1.5" height="1.5" fill="#0000fa"/>
<rect x="500.98" y="266.07" width="1.5" height="1.5" fill="#0000fa"/>
<rect x="505.85" y="266.16" width="1.5" height="1.5" fill="#0000fa"/>
<rect x="492.26" y="271.37" width="1.5" height="1.5" fill="#0000fa"/>
<rect x="511.66" y="271.14" width="1.5" height="1.5" fill="#0000fa"/>
<rect x="510.83" y="272.02" width="1.5" height="1.5" fill="#0000fa"/>
<rect x="503.33" y="265.06" width="1.5" height="1.5" fill="#0000fa"/>
<rect x="515.17" y="274.85" width="1.5" height="1.5" fill="#0000fa"/>
<rect x="512.53" y="274.85" width="1.5" height="1.5" fill="#0000fa"/>
<rect x="501.01" y="270.23" width="1.5" height="1.5" fill="#0000fa"/>
<rect x="493.88" y="269.12" width="1.5" height="1.5" fill="#0000fa"/>
<rect x="495.39" y="255.44" width="1.5" height="1.5" fill="#0000fa"/>
<rect x="496.82" y="269.68" width="1.5" height="1.5" fill="#0000fa"/>
<rect x="500.11" y="266.1" width="1.5" height="1.5" fill="#0000fa"/>
<rect x="504.06" y="270.07" width="1.5" height="1.5" fill="#0000fa"/>
<rect x="517.27" y="272.16" width="1.5" height="1.5" fill="#0000fa"/>
<rect x="499.41" y="265.19" width="1.5" height="1.5" fill="#0000fa"/>
<rect x="516.46" y="259.85" width="1.5" height="1.5" fill="#0000fa"/>
<rect x="510.46" y="270.42" width="1.5" height="1.5" fill="#0000fa"/>
<rect x="515.22" y="264.79" width="1.5" height="1.5" fill="#0000fa"/>
<rect x="502.84" y="265.91" width="1.5" height="1.5" fill="#0000fa"/>
<rect x="491.84" y="261.79" width="1.5" height="1.5" fill="#0000fa"/>
<rect x="513.39" y="266.85" width="1.5" height="1.5" fill="#0000fa"/>
<rect x="498.5" y="254.75" width="1.5" height="1.5" fill="#0000fa"/>
<rect x="495.67" y="272.39" width="1.5" height="1.5" fill="#0000fa"/>
<rect x="513.74" y="269.96" width="1.5" height="1.5" fill="#0000fa"/>
<rect x="510.62" y="274.29" width="1.5" height="1.5" fill="#0000fa"/>
<rect x="497.59" y="274.85" width="1.5" height="1.5" fill="#0000fa"/>
<rect x="499.11" y="267.02" width="1.5" height="1.5" fill="#0000fa"/>
<rect x="517.58" y="259.23" width="1.5" height="1.5" fill="#0000fa"/>
<rect x="499.13" y="262.26" width="1.5" height="1.5" fill="#0000fa"/>
<rect x="511.07" y="262.26" width="1.5" height="1.5" fill="#0000fa"/>
<rect x="495.31" y="263.36" width="1.5" height="1.5" fill="#0000fa"/>
<rect x="514.16" y="269.06" width="1.5" height="1.5" fill="#0000fa"/>
<rect x="494.98" y="255.46" width="1.5" height="1.5" fill="#0000fa"/>
<rect x="505.94" y="269.86" width="1.5" height="1.5" fill="#0000fa"/>
<rect x="492.72" y="257.36" width="1.5" height="1.5" fill="#0000fa"/>
<rect x="506.88" y="269.74" width="1.5" height="1.5" fill="#0000fa"/>
<rect x="515.03" y="268.08" width="1.5" height="1.5" fill="#0000fa"/>
<rect x="494.07" y="263.99" width="1.5" height="1.5" fill="#0000fa"/>
<rect x="499.29" y="266.56" width="1.5" height="1.5" fill="#0000fa"/>
<rect x="512.78" y="265.81" width="1.5" height="1.5" fill="#0000fa"/>
<rect x="508.47" y="265.17" width="1.5" height="1.5" fill="#0000fa"/>
<rect x="500.35" y="258.41" width="1.5" height="1.5" fill="#0000fa"/>
<rect x="509.04" y="268.25" width="1.5" height="1.5" fill="#0000fa"/>
<rect x="504.25" y="274.85" width="1.5" height="1.5" fill="#0000fa"/>
<rect x="515.46" y="274.85" width="1.5" height="1.5" fill="#0000fa"/>
<rect x="499.81" y="273.92" width="1.5" height="1.5" fill="#0000fa"/>
<rect x="512.59" y="272.28" width="1.5" height="1.5" fill="#0000fa"/>
<rect x="509.23" y="264.9" width="1.5" height="1.5" fill="#0000fa"/>
<rect x="512.11" y="274.85" width="1.5" height="1.5" fill="#0000fa"/>
<rect x="502.15" y="267.21" width="1.5" height="1.5" fill="#0000fa"/>
<rect x="511.69" y="268.21" width="1.5" height="1.5" fill="#0000fa"/>
<rect x="510.96" y="267.02" width="1.5" height="1.5" fill="#0000fa"/>
<rect x="502.41" y="268.03" width="1.5" height="1.5" fill="#0000fa"/>
<rect x="492.48" y="262.88" width="1.5" height="1.5" fill="#0000fa"/>
<rect x="518.23" y="268.14" width="1.5" height="1.5" fill="#0000fa"/>
<rect x="511.37" y="262.92" width="1.5" height="1.5" fill="#0000fa"/>
<rect x="497.38" y="264.56" width="1.5" height="1.5" fill="#0000fa"/>
<rect x="511.85" y="274.85" width="1.5" height="1.5" fill="#0000fa"/>
<rect x="499.41" y="266.6" width="1.5" height="1.5" fill="#0000fa"/>
<rect x="504.66" y="266.66" width="1.5" height="1.5" fill="#0000fa"/>
<rect x="515.4" y="271.42" width="1.5" height="1.5" fill="#0000fa"/>
<rect x="504.07" y="271.5" width="1.5" height="1.5" fill="#0000fa"/>
<rect x="499.67" y="261.23" width="1.5" height="1.5" fill="#0000fa"/>
<rect x="500.15" y="266.04" width="1.5" height="1.5" fill="#0000fa"/>
<rect x="493.87" y="270.33" width="1.5" height="1.5" fill="#0000fa"/>
<rect x="497.79" y="268" width="1.5" height="1.5" fill="#0000fa"/>
<rect x="499.21" y="267.55" width="1.5" height="1.5" fill="#0000fa"/>
<rect x="496.51" y="274.36" width="1.5" height="1.5" fill="#0000fa"/>
<rect x="493.48" y="261.92" width="1.5" height="1.5" fill="#0000fa"/>
<rect x="504.56" y="268.32" width="1.5" height="1.5" fill="#0000fa"/>
<rect x="497.65" y="263.86" width="1.5" height="1.5" fill="#0000fa"/>
<rect x="512.07" y="274.85" width="1.5" height="1.5" fill="#0000fa"/>
<rect x="517.12" y="258.47" width="1.5" height="1.5" fill="#0000fa"/>
<rect x="499.26" y="263.45" width="1.5" height="1.5" fill="#0000fa"/>
<rect x="507.49" y="265.5" width="1.5" height="1.5" fill="#0000fa"/>
<rect x="505.68" y="271.5" width="1.5" height="1.5" fill="#0000fa"/>
<rect x="493.82" y="268.7" width="1.5" height="1.5" fill="#0000fa"/>
<rect x="495.18" y="273.19" width="1.5" height="1.5" fill="#0000fa"/>
<rect x="516.08" y="260.46" width="1.5" height="1.5" fill="#0000fa"/>
<rect x="504.79" y="271.83" width="1.5" height="1.5" fill="#0000fa"/>
<rect x="513.88" y="267.12" width="1.5" height="1.5" fill="#0000fa"/>
<rect x="493.58" y="262.01" width="1.5" height="1.5" fill="#0000fa"/>
<rect x="508.11" y="271.12" width="1.5" height="1.5" fill="#0000fa"/>
<rect x="515.55" y="263.86" width="1.5" height="1.5" fill="#0000fa"/>
<rect x="515.59" y="257.85" width="1.5" height="1.5" fill="#0000fa"/>
<rect x="491.91" y="263.03" width="1.5" height="1.5" fill="#0000fa"/>
<rect x="539.57" y="259.72" width="1.5" height="1.5" fill="#0000fa"/>
<rect x="529.53" y="274.85" width="1.5" height="1.5" fill="#0000fa"/>
<rect x="538.83" y="264.59" width="1.5" height="1.5" fill="#0000fa"/>
<rect x="541.54" y="257.31" width="1.5" height="1.5" fill="#0000fa"/>
<rect x="544.05" y="258.43" width="1.5" height="1.5" fill="#0000fa"/>
<rect x="525.9" y="265.47" width="1.5" height="1.5" fill="#0000fa"/>
<rect x="530.57" y="269.04" width="1.5" height="1.5" fill="#0000fa"/>
<rect x="542.82" y="256.89" width="1.5" height="1.5" fill="#0000fa"/>
<rect x="542.89" y="250.6" width="1.5" height="1.5" fill="#0000fa"/>
<rect x="528.57" y="261.99" width="1.5" height="1.5" fill="#0000fa"/>
<rect x="542.76" y="259.44" width="1.5" height="1.5" fill="#0000fa"/>
<rect x="529.4" y="263.78" width="1.5" height="1.5" fill="#0000fa"/>
<rect x="528.62" y="269.96" width="1.5" height="1.5" fill="#0000fa"/>
<rect x="538.17" y="262.55" width="1.5" height="1.5" fill="#0000fa"/>
<rect x="531.03" y="266.96" width="1.5" height="1.5" fill="#0000fa"/>
<rect x="530.45" y="257.51" width="1.5" height="1.5" fill="#0000fa"/>
<rect x="528.9" y="267.67" width="1.5" height="1.5" fill="#0000fa"/>
<rect x="530.07" y="273.58" width="1.5" height="1.5" fill="#0000fa"/>
<rect x="522.75" y="268.11" width="1.5" height="1.5" fill="#0000fa"/>
<rect x="520.78" y="265.69" width="1.5" height="1.5" fill="#0000fa"/>
<rect x="538.1" y="261.76" width="1.5" height="1.5" fill="#0000fa"/>
<rect x="533.36" y="271.28" width="1.5" height="1.5" fill="#0000fa"/>
<rect x="536.05" y="256.98" width="1.5" height="1.5" fill="#0000fa"/>
<rect x="539.31" y="260.04" width="1.5" height="1.5" fill="#0000fa"/>
<rect x="525" y="266.27" width="1.5" height="1.5" fill="#0000fa"/>
<rect x="525.09" y="267.67" width="1.5" height="1.5" fill="#0000fa"/>
<rect x="526.2" y="261.61" width="1.5" height="1.5" fill="#0000fa"/>
<rect x="526.85" y="265.23" width="1.5" height="1.5" fill="#0000fa"/>
<rect x="538.27" y="259.55" width="1.5" height="1.5" fill="#0000fa"/>
<rect x="528.6" y="263.99" width="1.5" height="1.5" fill="#0000fa"/>
<rect x="527.33" y="262.95" width="1.5" height="1.5" fill="#0000fa"/>
<rect x="535.16" y="256.16" width="1.5" height="1.5" fill="#0000fa"/>
<rect x="523.91" y="264" width="1.5" height="1.5" fill="#0000fa"/>
<rect x="521.91" y="268.71" width="1.5" height="1.5" fill="#0000fa"/>
<rect x="536.68" y="256.59" width="1.5" height="1.5" fill="#0000fa"/>
<rect x="538.16" y="259.76" width="1.5" height="1.5" fill="#0000fa"/>
<rect x="526.66" y="267.05" width="1.5" height="1.5" fill="#0000fa"/>
<rect x="535.15" y="256.52" width="1.5" height="1.5" fill="#0000fa"/>
<rect x="520.1" y="265.39" width="1.5" height="1.5" fill="#0000fa"/>
<rect x="529.36" y="257.94" width="1.5" height="1.5" fill="#0000fa"/>
<rect x="533.7" y="267.93" width="1.5" height="1.5" fill="#0000fa"/>
<rect x="525.59" y="274.85" width="1.5" height="1.5" fill="#0000fa"/>
<rect x="527.96" y="273.61" width="1.5" height="1.5" fill="#0000fa"/>
<rect x="534.49" y="260.95" width="1.5" height="1.5" fill="#0000fa"/>
<rect x="534" y="265.88" width="1.5" height="1.5" fill="#0000fa"/>
<rect x="523.1" y="264.81" width="1.5" height="1.5" fill="#0000fa"/>
<rect x="536.91" y="261.87" width="1.5" height="1.5" fill="#0000fa"/>
<rect x="521.25" y="272.12" width="1.5" height="1.5" fill="#0000fa"/>
<rect x="543.49" y="252.48" width="1.5" height="1.5" fill="#0000fa"/>
<rect x="524.31" y="269.34" width="1.5" height="1.5" fill="#0000fa"/>
<rect x="525.59" y="263.64" width="1.5" height="1.5" fill="#0000fa"/>
<rect x="524.26" y="271.11" width="1.5" height="1.5" fill="#0000fa"/>
<rect x="544.04" y="259.8" width="1.5" height="1.5" fill="#0000fa"/>
<rect x="526.41" y="260.4" width="1.5" height="1.5" fill="#0000fa"/>
<rect x="534.38" y="263.46" width="1.5" height="1.5" fill="#0000fa"/>
<rect x="544.02" y="262.55" width="1.5" height="1.5" fill="#0000fa"/>
<rect x="543" y="259.45" width="1.5" height="1.5" fill="#0000fa"/>
<rect x="520.31" y="266.9" width="1.5" height="1.5" fill="#0000fa"/>
<rect x="532.28" y="260" width="1.5" height="1.5" fill="#0000fa"/>
<rect x="534.28" y="251.43" width="1.5" height="1.5" fill="#0000fa"/>
<rect x="536.81" y="265.89" width="1.5" height="1.5" fill="#0000fa"/>
<rect x="527.65" y="267.05" width="1.5" height="1.5" fill="#0000fa"/>
<rect x="527.45" y="264.33" width="1.5" height="1.5" fill="#0000fa"/>
<rect x="519.36" y="264.86" width="1.5" height="1.5" fill="#0000fa"/>
<rect x="520.13" y="269.65" width="1.5" height="1.5" fill="#0000fa"/>
<rect x="533" y="260.14" width="1.5" height="1.5" fill="#0000fa"/>
<rect x="521.15" y="260.86" width="1.5" height="1.5" fill="#0000fa"/>
<rect x="524.31" y="263.12" width="1.5" height="1.5" fill="#0000fa"/>
<rect x="527.58" y="269.51" width="1.5" height="1.5" fill="#0000fa"/>
<rect x="521.01" y="257.47" width="1.5" height="1.5" fill="#0000fa"/>
<rect x="520.02" y="270.44" width="1.5" height="1.5" fill="#0000fa"/>
<rect x="542.42" y="256.29" width="1.5" height="1.5" fill="#0000fa"/>
<rect x="530.13" y="257.58" width="1.5" height="1.5" fill="#0000fa"/>
<rect x="524.37" y="270.35" width="1.5" height="1.5" fill="#0000fa"/>
<rect x="536.96" y="260.86" width="1.5" height="1.5" fill="#0000fa"/>
<rect x="568.7" y="245.18" width="1.5" height="1.5" fill="#0000fa"/>
<rect x="551.05" y="263.1" width="1.5" height="1.5" fill="#0000fa"/>
<rect x="560.74" y="253.56" width="1.5" height="1.5" fill="#0000fa"/>
<rect x="578.38" y="232.21" width="1.5" height="1.5" fill="#0000fa"/>
<rect x="563.12" y="245.32" width="1.5" height="1.5" fill="#0000fa"/>
<rect x="546.24" y="258.63" width="1.5" height="1.5" fill="#0000fa"/>
<rect x="559.26" y="249.99" width="1.5" height="1.5" fill="#0000fa"/>
<rect x="567.36" y="244.54" width="1.5" height="1.5" fill="#0000fa"/>
<rect x="546.23" y="255.02" width="1.5" height="1.5" fill="#0000fa"/>
<rect x="553.09" y="244.14" width="1.5" height="1.5" fill="#0000fa"/>
<rect x="544.89" y="255.89" width="1.5" height="1.5" fill="#0000fa"/>
<rect x="563.15" y="236.12" width="1.5" height="1.5" fill="#0000fa"/>
<rect x="557.6" y="252.53" width="1.5" height="1.5" fill="#0000fa"/>
<rect x="561.88" y="244.41" width="1.5" height="1.5" fill="#0000fa"/>
<rect x="554.6" y="248.79" width="1.5" height="1.5" fill="#0000fa"/>
<rect x="567.24" y="243.29" width="1.5" height="1.5" fill="#0000fa"/>
<rect x="550.31" y="255.95" width="1.5" height="1.5" fill="#0000fa"/>
<rect x="575.98" y="230.41" width="1.5" height="1.5" fill="#0000fa"/>
<rect x="577.85" y="227.23" width="1.5" height="1.5" fill="#0000fa"/>
<rect x="561.5" y="242.95" width="1.5" height="1.5" fill="#0000fa"/>
<rect x="560.54" y="238.68" width="1.5" height="1.5" fill="#0000fa"/>
<rect x="574.34" y="234.1" width="1.5" height="1.5" fill="#0000fa"/>
<rect x="554.39" y="260.44" width="1.5" height="1.5" fill="#0000fa"/>
<rect x="572.36" y="235.24" width="1.5" height="1.5" fill="#0000fa"/>
<rect x="554.31" y="255.79" width="1.5" height="1.5" fill="#0000fa"/>
<rect x="569.45" y="235.9" width="1.5" height="1.5" fill="#0000fa"/>
<rect x="555.94" y="253.13" width="1.5" height="1.5" fill="#0000fa"/>
<rect x="565.34" y="244.13" width="1.5" height="1.5" fill="#0000fa"/>
<rect x="576.66" y="236.7" width="1.5" height="1.5" fill="#0000fa"/>
<rect x="546.15" y="259.33" width="1.5" height="1.5" fill="#0000fa"/>
<rect x="572.5" y="249.19" width="1.5" height="1.5" fill="#0000fa"/>
<rect x="563.21" y="248.14" width="1.5" height="1.5" fill="#0000fa"/>
<rect x="557.52" y="251.35" width="1.5" height="1.5" fill="#0000fa"/>
<rect x="556.51" y="246.44" width="1.5" height="1.5" fill="#0000fa"/>
<rect x="546.68" y="259.17" width="1.5" height="1.5" fill="#0000fa"/>
<rect x="553.29" y="251.84" width="1.5" height="1.5" fill="#0000fa"/>
<rect x="566.06" y="249.38" width="1.5" height="1.5" fill="#0000fa"/>
<rect x="547.67" y="255.6" width="1.5" height="1.5" fill="#0000fa"/>
<rect x="567.68" y="252.77" width="1.5" height="1.5" fill="#0000fa"/>
<rect x="577.93" y="225.99" width="1.5" height="1.5" fill="#0000fa"/>
<rect x="578.58" y="233.86" width="1.5" height="1.5" fill="#0000fa"/>
<rect x="575.37" y="242.49" width="1.5" height="1.5" fill="#0000fa"/>
<rect x="572.48" y="238.67" width="1.5" height="1.5" fill="#0000fa"/>
<rect x="550.48" y="250.54" width="1.5" height="1.5" fill="#0000fa"/>
<rect x="578.21" y="234.34" width="1.5" height="1.5" fill="#0000fa"/>
<rect x="551.35" y="247.17" width="1.5" height="1.5" fill="#0000fa"/>
<rect x="574.67" y="239.26" width="1.5" height="1.5" fill="#0000fa"/>
<rect x="574.98" y="250.61" width="1.5" height="1.5" fill="#0000fa"/>
<rect x="566.02" y="250.98" width="1.5" height="1.5" fill="#0000fa"/>
<rect x="562.5" y="242.09" width="1.5" height="1.5" fill="#0000fa"/>
<rect x="551.26" y="249.75" width="1.5" height="1.5" fill="#0000fa"/>
<rect x="562.43" y="245.66" width="1.5" height="1.5" fill="#0000fa"/>
<rect x="554.42" y="257.49" width="1.5" height="1.5" fill="#0000fa"/>
<rect x="548.66" y="251.26" width="1.5" height="1.5" fill="#0000fa"/>
<rect x="548.74" y="251.88" width="1.5" height="1.5" fill="#0000fa"/>
<rect x="572.29" y="245" width="1.5" height="1.5" fill="#0000fa"/>
<rect x="576.53" y="241.43" width="1.5" height="1.5" fill="#0000fa"/>
<rect x="549.22" y="253.24" width="1.5" height="1.5" fill="#0000fa"/>
<rect x="544.71" y="251.5" width="1.5" height="1.5" fill="#0000fa"/>
<rect x="553.48" y="245.23" width="1.5" height="1.5" fill="#0000fa"/>
<rect x="548.96" y="251.73" width="1.5" height="1.5" fill="#0000fa"/>
<rect x="550.85" y="243.17" width="1.5" height="1.5" fill="#0000fa"/>
<rect x="564.67" y="249.94" width="1.5" height="1.5" fill="#0000fa"/>
<rect x="559.03" y="246.67" width="1.5" height="1.5" fill="#0000fa"/>
<rect x="559.27" y="252.08" width="1.5" height="1.5" fill="#0000fa"/>
<rect x="551.45" y="263.36" width="1.5" height="1.5" fill="#0000fa"/>
<rect x="567.51" y="250.05" width="1.5" height="1.5" fill="#0000fa"/>
<rect x="554.38" y="246.73" width="1.5" height="1.5" fill="#0000fa"/>
<rect x="558.22" y="254.66" width="1.5" height="1.5" fill="#0000fa"/>
<rect x="560.47" y="254.73" width="1.5" height="1.5" fill="#0000fa"/>
<rect x="594.38" y="218.58" width="1.5" height="1.5" fill="#0000fa"/>
<rect x="605.46" y="208.98" width="1.5" height="1.5" fill="#0000fa"/>
<rect x="579.52" y="233.14" width="1.5" height="1.5" fill="#0000fa"/>
<rect x="596.37" y="223.66" width="1.5" height="1.5" fill="#0000fa"/>
<rect x="623.44" y="180.57" width="1.5" height="1.5" fill="#0000fa"/>
<rect x="584.72" y="222.12" width="1.5" height="1.5" fill="#0000fa"/>
<rect x="619.26" y="186.9" width="1.5" height="1.5" fill="#0000fa"/>
<rect x="609.27" y="195.46" width="1.5" height="1.5" fill="#0000fa"/>
<rect x="592.77" y="222.87" width="1.5" height="1.5" fill="#0000fa"/>
<rect x="615.05" y="199.99" width="1.5" height="1.5" fill="#0000fa"/>
<rect x="592.56" y="225.85" width="1.5" height="1.5" fill="#0000fa"/>
<rect x="620.41" y="182.81" width="1.5" height="1.5" fill="#0000fa"/>
<rect x="583.06" y="229.74" width="1.5" height="1.5" fill="#0000fa"/>
<rect x="584.72" y="238.32" width="1.5" height="1.5" fill="#0000fa"/>
<rect x="613.75" y="198.8" width="1.5" height="1.5" fill="#0000fa"/>
<rect x="599.91" y="215.05" width="1.5" height="1.5" fill="#0000fa"/>
<rect x="586.03" y="234.16" width="1.5" height="1.5" fill="#0000fa"/>
<rect x="602.87" y="221.33" width="1.5" height="1.5" fill="#0000fa"/>
<rect x="592.91" y="228.07" width="1.5" height="1.5" fill="#0000fa"/>
<rect x="604.52" y="210.06" width="1.5" height="1.5" fill="#0000fa"/>
<rect x="613.46" y="199.34" width="1.5" height="1.5" fill="#0000fa"/>
<rect x="618.66" y="193.15" width="1.5" height="1.5" fill="#0000fa"/>
<rect x="581.96" y="231.35" width="1.5" height="1.5" fill="#0000fa"/>
<rect x="606.5" y="202.8" width="1.5" height="1.5" fill="#0000fa"/>
<rect x="624.5" y="182.32" width="1.5" height="1.5" fill="#0000fa"/>
<rect x="600.4" y="210.67" width="1.5" height="1.5" fill="#0000fa"/>
<rect x="614.65" y="196.05" width="1.5" height="1.5" fill="#0000fa"/>
<rect x="583.72" y="232.54" width="1.5" height="1.5" fill="#0000fa"/>
<rect x="619.43" y="198.94" width="1.5" height="1.5" fill="#0000fa"/>
<rect x="606.02" y="204.22" width="1.5" height="1.5" fill="#0000fa"/>
<rect x="620.11" y="188.11" width="1.5" height="1.5" fill="#0000fa"/>
<rect x="615.46" y="194.53" width="1.5" height="1.5" fill="#0000fa"/>
<rect x="619.24" y="191.61" width="1.5" height="1.5" fill="#0000fa"/>
<rect x="581.89" y="238.06" width="1.5" height="1.5" fill="#0000fa"/>
<rect x="612.16" y="197.71" width="1.5" height="1.5" fill="#0000fa"/>
<rect x="588.31" y="224.38" width="1.5" height="1.5" fill="#0000fa"/>
<rect x="591.48" y="217.84" width="1.5" height="1.5" fill="#0000fa"/>
<rect x="594.19" y="217.79" width="1.5" height="1.5" fill="#0000fa"/>
<rect x="606.45" y="209.24" width="1.5" height="1.5" fill="#0000fa"/>
<rect x="608.13" y="205.14" width="1.5" height="1.5" fill="#0000fa"/>
<rect x="622.1" y="181.64" width="1.5" height="1.5" fill="#0000fa"/>
<rect x="579.84" y="234.24" width="1.5" height="1.5" fill="#0000fa"/>
<rect x="588.15" y="227.96" width="1.5" height="1.5" fill="#0000fa"/>
<rect x="595.9" y="221.62" width="1.5" height="1.5" fill="#0000fa"/>
<rect x="616.88" y="190.83" width="1.5" height="1.5" fill="#0000fa"/>
<rect x="604.55" y="208.46" width="1.5" height="1.5" fill="#0000fa"/>
<rect x="602.8" y="204.32" width="1.5" height="1.5" fill="#0000fa"/>
<rect x="614.22" y="192.29" width="1.5" height="1.5" fill="#0000fa"/>
<rect x="609.38" y="209.81" width="1.5" height="1.5" fill="#0000fa"/>
<rect x="592.58" y="214.48" width="1.5" height="1.5" fill="#0000fa"/>
<rect x="583.26" y="231.24" width="1.5" height="1.5" fill="#0000fa"/>
<rect x="600.52" y="215.2" width="1.5" height="1.5" fill="#0000fa"/>
<rect x="619.74" y="187.64" width="1.5" height="1.5" fill="#0000fa"/>
<rect x="606.76" y="203.46" width="1.5" height="1.5" fill="#0000fa"/>
<rect x="581.7" y="233.8" width="1.5" height="1.5" fill="#0000fa"/>
<rect x="493.1" y="236.0" width="1.6" height="1.6" fill="#0000fa"/>
<rect x="494.0" y="249.8" width="1.6" height="1.6" fill="#0000fa"/>
<polyline points="492.5,261.66 493.62,262.01 494.75,262.35 495.87,262.66 496.99,262.96 498.12,263.25 499.24,263.51 500.36,263.76 501.49,263.99 502.61,264.2 503.74,264.4 504.86,264.58 505.98,264.74 507.11,264.88 508.23,265.01 509.35,265.11 510.48,265.2 511.6,265.28 512.72,265.33 513.85,265.37 514.97,265.4 516.09,265.4 517.22,265.39 518.34,265.36 519.46,265.31 520.59,265.24 521.71,265.16 522.84,265.06 523.96,264.94 525.08,264.81 526.21,264.65 527.33,264.48 528.45,264.3 529.58,264.09 530.7,263.87 531.82,263.63 532.95,263.37 534.07,263.1 535.19,262.81 536.32,262.5 537.44,262.17 538.56,261.83 539.69,261.47 540.81,261.09 541.94,260.69 543.06,260.28 544.18,259.85 545.31,259.4 546.43,258.94 547.55,258.45 548.68,257.95 549.8,257.44 550.92,256.9 552.05,256.35 553.17,255.78 554.29,255.19 555.42,254.59 556.54,253.96 557.66,253.32 558.79,252.67 559.91,251.99 561.04,251.3 562.16,250.59 563.28,249.87 564.41,249.12 565.53,248.36 566.65,247.58 567.78,246.79 568.9,245.97 570.02,245.14 571.15,244.29 572.27,243.43 573.39,242.55 574.52,241.64 575.64,240.73 576.76,239.79 577.89,238.84 579.01,237.87 580.14,236.88 581.26,235.88 582.38,234.86 583.51,233.82 584.63,232.76 585.75,231.68 586.88,230.59 588,229.48 589.12,228.36 590.25,227.21 591.37,226.05 592.49,224.87 593.62,223.68 594.74,222.46 595.86,221.23 596.99,219.98 598.11,218.72 599.24,217.44 600.36,216.14 601.48,214.82 602.61,213.48 603.73,212.13 604.85,210.76 605.98,209.37 607.1,207.97 608.22,206.54 609.35,205.11 610.47,203.65 611.59,202.17 612.72,200.68 613.84,199.17 614.96,197.65 616.09,196.1 617.21,194.54 618.34,192.96 619.46,191.37 620.58,189.75 621.71,188.12 622.83,186.47 623.95,184.81 625.08,183.12 626.2,181.42" fill="none" stroke="#222" stroke-width="1.0" stroke-linecap="round" stroke-linejoin="round"/>
<rect x="484.0" y="163.5" width="86.4" height="56.8" fill="#fff" stroke="#6e6e6e" stroke-width="1.0"/>
<rect x="484.12" y="215.63" width="1.8" height="1.8" fill="#fa0000"/>
<rect x="512.01" y="211.76" width="1.8" height="1.8" fill="#fa0000"/>
<rect x="485.83" y="215.26" width="1.8" height="1.8" fill="#fa0000"/>
<rect x="510.69" y="212.91" width="1.8" height="1.8" fill="#fa0000"/>
<rect x="504.86" y="213.82" width="1.8" height="1.8" fill="#fa0000"/>
<rect x="508.51" y="214.1" width="1.8" height="1.8" fill="#fa0000"/>
<rect x="486.97" y="216.81" width="1.8" height="1.8" fill="#fa0000"/>
<rect x="488.07" y="215.56" width="1.8" height="1.8" fill="#fa0000"/>
<rect x="512.98" y="210.39" width="1.8" height="1.8" fill="#fa0000"/>
<rect x="499.23" y="214.87" width="1.8" height="1.8" fill="#fa0000"/>
<rect x="492.34" y="214.31" width="1.8" height="1.8" fill="#fa0000"/>
<rect x="493.59" y="215.68" width="1.8" height="1.8" fill="#fa0000"/>
<rect x="510.65" y="213.2" width="1.8" height="1.8" fill="#fa0000"/>
<rect x="484.36" y="215.55" width="1.8" height="1.8" fill="#fa0000"/>
<rect x="501.45" y="215.28" width="1.8" height="1.8" fill="#fa0000"/>
<rect x="505.36" y="213.83" width="1.8" height="1.8" fill="#fa0000"/>
<rect x="486.76" y="217.1" width="1.8" height="1.8" fill="#fa0000"/>
<rect x="498.73" y="214.16" width="1.8" height="1.8" fill="#fa0000"/>
<rect x="503.16" y="213.45" width="1.8" height="1.8" fill="#fa0000"/>
<rect x="485.45" y="216.74" width="1.8" height="1.8" fill="#fa0000"/>
<rect x="510.13" y="211.39" width="1.8" height="1.8" fill="#fa0000"/>
<rect x="499.56" y="216.26" width="1.8" height="1.8" fill="#fa0000"/>
<rect x="511.34" y="211.61" width="1.8" height="1.8" fill="#fa0000"/>
<rect x="495.99" y="215.84" width="1.8" height="1.8" fill="#fa0000"/>
<rect x="504.94" y="215.15" width="1.8" height="1.8" fill="#fa0000"/>
<rect x="505.45" y="215.02" width="1.8" height="1.8" fill="#fa0000"/>
<rect x="486.28" y="216.23" width="1.8" height="1.8" fill="#fa0000"/>
<rect x="512.3" y="211.66" width="1.8" height="1.8" fill="#fa0000"/>
<rect x="506.57" y="213.46" width="1.8" height="1.8" fill="#fa0000"/>
<rect x="497.44" y="215.21" width="1.8" height="1.8" fill="#fa0000"/>
<rect x="501.92" y="216.02" width="1.8" height="1.8" fill="#fa0000"/>
<rect x="504.03" y="214.6" width="1.8" height="1.8" fill="#fa0000"/>
<rect x="504.84" y="215.08" width="1.8" height="1.8" fill="#fa0000"/>
<rect x="496.08" y="213.64" width="1.8" height="1.8" fill="#fa0000"/>
<rect x="498.41" y="215.03" width="1.8" height="1.8" fill="#fa0000"/>
<rect x="491.12" y="215.86" width="1.8" height="1.8" fill="#fa0000"/>
<rect x="496.87" y="215.16" width="1.8" height="1.8" fill="#fa0000"/>
<rect x="508.37" y="214.83" width="1.8" height="1.8" fill="#fa0000"/>
<rect x="494.07" y="214.7" width="1.8" height="1.8" fill="#fa0000"/>
<rect x="510.27" y="212.89" width="1.8" height="1.8" fill="#fa0000"/>
<rect x="500.19" y="215.8" width="1.8" height="1.8" fill="#fa0000"/>
<rect x="502.96" y="213.92" width="1.8" height="1.8" fill="#fa0000"/>
<rect x="488.12" y="216.32" width="1.8" height="1.8" fill="#fa0000"/>
<rect x="503.41" y="214.83" width="1.8" height="1.8" fill="#fa0000"/>
<rect x="502.52" y="217.01" width="1.8" height="1.8" fill="#fa0000"/>
<rect x="493.56" y="216.81" width="1.8" height="1.8" fill="#fa0000"/>
<rect x="491.76" y="215.6" width="1.8" height="1.8" fill="#fa0000"/>
<rect x="503.86" y="215.18" width="1.8" height="1.8" fill="#fa0000"/>
<rect x="485.87" y="215.96" width="1.8" height="1.8" fill="#fa0000"/>
<rect x="507.56" y="213.04" width="1.8" height="1.8" fill="#fa0000"/>
<rect x="493.42" y="216.16" width="1.8" height="1.8" fill="#fa0000"/>
<rect x="486.53" y="216.03" width="1.8" height="1.8" fill="#fa0000"/>
<rect x="500.81" y="216.28" width="1.8" height="1.8" fill="#fa0000"/>
<rect x="497.06" y="214.34" width="1.8" height="1.8" fill="#fa0000"/>
<rect x="505.15" y="213" width="1.8" height="1.8" fill="#fa0000"/>
<rect x="505.72" y="213.32" width="1.8" height="1.8" fill="#fa0000"/>
<rect x="486.65" y="216.17" width="1.8" height="1.8" fill="#fa0000"/>
<rect x="502.16" y="215.63" width="1.8" height="1.8" fill="#fa0000"/>
<rect x="509.84" y="212.55" width="1.8" height="1.8" fill="#fa0000"/>
<rect x="506.48" y="213.93" width="1.8" height="1.8" fill="#fa0000"/>
<rect x="504.32" y="214.33" width="1.8" height="1.8" fill="#fa0000"/>
<rect x="493.44" y="214.34" width="1.8" height="1.8" fill="#fa0000"/>
<rect x="499.49" y="214.54" width="1.8" height="1.8" fill="#fa0000"/>
<rect x="502.6" y="215.41" width="1.8" height="1.8" fill="#fa0000"/>
<rect x="495.24" y="216.27" width="1.8" height="1.8" fill="#fa0000"/>
<rect x="494.12" y="216.57" width="1.8" height="1.8" fill="#fa0000"/>
<rect x="497.43" y="216" width="1.8" height="1.8" fill="#fa0000"/>
<rect x="484.61" y="213.63" width="1.8" height="1.8" fill="#fa0000"/>
<rect x="490.48" y="215.88" width="1.8" height="1.8" fill="#fa0000"/>
<rect x="486.24" y="215.93" width="1.8" height="1.8" fill="#fa0000"/>
<rect x="510.01" y="211.52" width="1.8" height="1.8" fill="#fa0000"/>
<rect x="487.15" y="217.15" width="1.8" height="1.8" fill="#fa0000"/>
<rect x="487.78" y="215.52" width="1.8" height="1.8" fill="#fa0000"/>
<rect x="487.65" y="216.41" width="1.8" height="1.8" fill="#fa0000"/>
<rect x="498.45" y="215.97" width="1.8" height="1.8" fill="#fa0000"/>
<rect x="493.34" y="216.13" width="1.8" height="1.8" fill="#fa0000"/>
<rect x="504.79" y="215.31" width="1.8" height="1.8" fill="#fa0000"/>
<rect x="494.62" y="215.51" width="1.8" height="1.8" fill="#fa0000"/>
<rect x="488.17" y="216.41" width="1.8" height="1.8" fill="#fa0000"/>
<rect x="496.65" y="215.87" width="1.8" height="1.8" fill="#fa0000"/>
<rect x="507.93" y="212.32" width="1.8" height="1.8" fill="#fa0000"/>
<rect x="487.99" y="215.13" width="1.8" height="1.8" fill="#fa0000"/>
<rect x="507.87" y="212.36" width="1.8" height="1.8" fill="#fa0000"/>
<rect x="501.84" y="213.4" width="1.8" height="1.8" fill="#fa0000"/>
<rect x="512.64" y="210.31" width="1.8" height="1.8" fill="#fa0000"/>
<rect x="502.8" y="215.02" width="1.8" height="1.8" fill="#fa0000"/>
<rect x="494.84" y="214.47" width="1.8" height="1.8" fill="#fa0000"/>
<rect x="510.97" y="213.02" width="1.8" height="1.8" fill="#fa0000"/>
<rect x="495.56" y="215.37" width="1.8" height="1.8" fill="#fa0000"/>
<rect x="504.31" y="214.09" width="1.8" height="1.8" fill="#fa0000"/>
<rect x="507.23" y="212.51" width="1.8" height="1.8" fill="#fa0000"/>
<rect x="503.23" y="214.85" width="1.8" height="1.8" fill="#fa0000"/>
<rect x="497.57" y="214.7" width="1.8" height="1.8" fill="#fa0000"/>
<rect x="495.78" y="216.08" width="1.8" height="1.8" fill="#fa0000"/>
<rect x="489.59" y="216.2" width="1.8" height="1.8" fill="#fa0000"/>
<rect x="497.52" y="214.06" width="1.8" height="1.8" fill="#fa0000"/>
<rect x="507.32" y="213.87" width="1.8" height="1.8" fill="#fa0000"/>
<rect x="511.51" y="210.37" width="1.8" height="1.8" fill="#fa0000"/>
<rect x="502.88" y="215.28" width="1.8" height="1.8" fill="#fa0000"/>
<rect x="507.97" y="211.59" width="1.8" height="1.8" fill="#fa0000"/>
<rect x="505.76" y="213.09" width="1.8" height="1.8" fill="#fa0000"/>
<rect x="508.17" y="214.26" width="1.8" height="1.8" fill="#fa0000"/>
<rect x="503.6" y="214.64" width="1.8" height="1.8" fill="#fa0000"/>
<rect x="493.9" y="216.19" width="1.8" height="1.8" fill="#fa0000"/>
<rect x="488.61" y="213.68" width="1.8" height="1.8" fill="#fa0000"/>
<rect x="494.79" y="216.24" width="1.8" height="1.8" fill="#fa0000"/>
<rect x="508.8" y="212.34" width="1.8" height="1.8" fill="#fa0000"/>
<rect x="503.83" y="215.74" width="1.8" height="1.8" fill="#fa0000"/>
<rect x="490.42" y="215.68" width="1.8" height="1.8" fill="#fa0000"/>
<rect x="486.78" y="215.56" width="1.8" height="1.8" fill="#fa0000"/>
<rect x="515" y="209.6" width="2.2" height="2.2" fill="#fa0000"/>
<rect x="520.2" y="208.6" width="2.2" height="2.2" fill="#fa0000"/>
<rect x="523.3" y="208" width="2.2" height="2.2" fill="#fa0000"/>
<rect x="526.4" y="206.9" width="2.2" height="2.2" fill="#fa0000"/>
<rect x="530.9" y="201.3" width="2.2" height="2.2" fill="#fa0000"/>
<rect x="537.1" y="192" width="2.2" height="2.2" fill="#fa0000"/>
<rect x="546" y="176.1" width="2.2" height="2.2" fill="#fa0000"/>
<rect x="562.6" y="165.1" width="2.2" height="2.2" fill="#fa0000"/>
<polyline points="484.5,216.3 485.51,216.3 486.52,216.3 487.53,216.3 488.54,216.3 489.55,216.3 490.56,216.3 491.57,216.3 492.58,216.3 493.59,216.3 494.6,216.3 495.61,216.27 496.62,216.23 497.63,216.16 498.64,216.07 499.65,215.96 500.66,215.83 501.67,215.67 502.68,215.49 503.69,215.3 504.7,215.08 505.71,214.83 506.72,214.57 507.73,214.29 508.74,213.98 509.75,213.65 510.76,213.3 511.77,212.93 512.78,212.53 513.79,212.12 514.8,211.68 515.81,211.22 516.82,210.74 517.83,210.23 518.84,209.71 519.85,209.16 520.86,208.59 521.87,208 522.88,207.39 523.89,206.76 524.91,206.1 525.92,205.42 526.93,204.72 527.94,204 528.95,203.26 529.96,202.49 530.97,201.71 531.98,200.9 532.99,200.07 534,199.22 535.01,198.34 536.02,197.45 537.03,196.53 538.04,195.59 539.05,194.63 540.06,193.65 541.07,192.64 542.08,191.61 543.09,190.57 544.1,189.5 545.11,188.4 546.12,187.29 547.13,186.15 548.14,185 549.15,183.82 550.16,182.62 551.17,181.4 552.18,180.15 553.19,178.88 554.2,177.6 555.21,176.29 556.22,174.96 557.23,173.6 558.24,172.23 559.25,170.83 560.26,169.41 561.27,167.97 562.28,166.51 563.29,165.02 564.3,163.52" fill="none" stroke="#222" stroke-width="1.0" stroke-linecap="round" stroke-linejoin="round"/>
<rect x="484.0" y="163.5" width="86.4" height="56.8" fill="none" stroke="#6e6e6e" stroke-width="1.0"/>
<line x1="492.8" y1="220.3" x2="492.8" y2="218.5" stroke="#6e6e6e" stroke-width="0.8"/>
<line x1="503.79" y1="220.3" x2="503.79" y2="218.9" stroke="#6e6e6e" stroke-width="0.8"/>
<line x1="514.77" y1="220.3" x2="514.77" y2="218.5" stroke="#6e6e6e" stroke-width="0.8"/>
<line x1="525.75" y1="220.3" x2="525.75" y2="218.9" stroke="#6e6e6e" stroke-width="0.8"/>
<line x1="536.74" y1="220.3" x2="536.74" y2="218.5" stroke="#6e6e6e" stroke-width="0.8"/>
<line x1="547.73" y1="220.3" x2="547.73" y2="218.9" stroke="#6e6e6e" stroke-width="0.8"/>
<line x1="558.71" y1="220.3" x2="558.71" y2="218.5" stroke="#6e6e6e" stroke-width="0.8"/>
<line x1="569.7" y1="220.3" x2="569.7" y2="218.9" stroke="#6e6e6e" stroke-width="0.8"/>
<line x1="570.4" y1="217.6" x2="568.8" y2="217.6" stroke="#6e6e6e" stroke-width="0.8"/>
<line x1="570.4" y1="212.01" x2="569.2" y2="212.01" stroke="#6e6e6e" stroke-width="0.8"/>
<line x1="570.4" y1="206.42" x2="568.8" y2="206.42" stroke="#6e6e6e" stroke-width="0.8"/>
<line x1="570.4" y1="200.84" x2="569.2" y2="200.84" stroke="#6e6e6e" stroke-width="0.8"/>
<line x1="570.4" y1="195.25" x2="568.8" y2="195.25" stroke="#6e6e6e" stroke-width="0.8"/>
<line x1="570.4" y1="189.66" x2="569.2" y2="189.66" stroke="#6e6e6e" stroke-width="0.8"/>
<line x1="570.4" y1="184.07" x2="568.8" y2="184.07" stroke="#6e6e6e" stroke-width="0.8"/>
<line x1="570.4" y1="178.49" x2="569.2" y2="178.49" stroke="#6e6e6e" stroke-width="0.8"/>
<line x1="570.4" y1="172.9" x2="568.8" y2="172.9" stroke="#6e6e6e" stroke-width="0.8"/>
<text class="sb" x="492.8" y="228.9" font-size="9" text-anchor="middle" >10</text>
<text class="sb" x="514.77" y="228.9" font-size="9" text-anchor="middle" >20</text>
<text class="sb" x="536.74" y="228.9" font-size="9" text-anchor="middle" >30</text>
<text class="sb" x="558.71" y="228.9" font-size="9" text-anchor="middle" >40</text>
<text class="sb" x="571.3" y="220.7" font-size="9" text-anchor="start" >0.0</text>
<text class="sb" x="571.3" y="209.52" font-size="9" text-anchor="start" >2.5</text>
<text class="sb" x="571.3" y="198.35" font-size="9" text-anchor="start" >5.0</text>
<text class="sb" x="571.3" y="187.17" font-size="9" text-anchor="start" >7.5</text>
<text class="sb" x="571.3" y="176" font-size="9" text-anchor="start" >10.0</text>
<text class="sb" x="505.5" y="189.8" font-size="14" text-anchor="start" textLength="27">10 V</text>
<rect x="484.0" y="163.4" width="143.4" height="113.5" fill="none" stroke="#6e6e6e" stroke-width="1.2"/>
<line x1="501.93" y1="276.9" x2="501.93" y2="274.7" stroke="#6e6e6e" stroke-width="1.0"/>
<line x1="519.85" y1="276.9" x2="519.85" y2="275.4" stroke="#6e6e6e" stroke-width="1.0"/>
<line x1="537.77" y1="276.9" x2="537.77" y2="274.7" stroke="#6e6e6e" stroke-width="1.0"/>
<line x1="555.7" y1="276.9" x2="555.7" y2="275.4" stroke="#6e6e6e" stroke-width="1.0"/>
<line x1="573.62" y1="276.9" x2="573.62" y2="274.7" stroke="#6e6e6e" stroke-width="1.0"/>
<line x1="573.62" y1="163.4" x2="573.62" y2="164.9" stroke="#6e6e6e" stroke-width="1.0"/>
<line x1="591.55" y1="276.9" x2="591.55" y2="275.4" stroke="#6e6e6e" stroke-width="1.0"/>
<line x1="591.55" y1="163.4" x2="591.55" y2="164.9" stroke="#6e6e6e" stroke-width="1.0"/>
<line x1="609.48" y1="276.9" x2="609.48" y2="274.7" stroke="#6e6e6e" stroke-width="1.0"/>
<line x1="609.48" y1="163.4" x2="609.48" y2="164.9" stroke="#6e6e6e" stroke-width="1.0"/>
<line x1="484" y1="276.9" x2="486.2" y2="276.9" stroke="#6e6e6e" stroke-width="1.0"/>
<line x1="627.4" y1="276.9" x2="625.2" y2="276.9" stroke="#6e6e6e" stroke-width="1.0"/>
<line x1="484" y1="248.52" x2="485.5" y2="248.52" stroke="#6e6e6e" stroke-width="1.0"/>
<line x1="627.4" y1="248.52" x2="625.9" y2="248.52" stroke="#6e6e6e" stroke-width="1.0"/>
<line x1="484" y1="220.15" x2="486.2" y2="220.15" stroke="#6e6e6e" stroke-width="1.0"/>
<line x1="627.4" y1="220.15" x2="625.2" y2="220.15" stroke="#6e6e6e" stroke-width="1.0"/>
<line x1="484" y1="191.77" x2="485.5" y2="191.77" stroke="#6e6e6e" stroke-width="1.0"/>
<line x1="627.4" y1="191.77" x2="625.9" y2="191.77" stroke="#6e6e6e" stroke-width="1.0"/>
<line x1="484" y1="163.4" x2="486.2" y2="163.4" stroke="#6e6e6e" stroke-width="1.0"/>
<line x1="627.4" y1="163.4" x2="625.2" y2="163.4" stroke="#6e6e6e" stroke-width="1.0"/>
<text class="sb" x="481.2" y="280.1" font-size="11.5" text-anchor="end" >0.00</text>
<text class="sb" x="481.2" y="223.35" font-size="11.5" text-anchor="end" >0.25</text>
<text class="sb" x="481.2" y="166.6" font-size="11.5" text-anchor="end" >0.50</text>
<text class="sb" x="501.93" y="288.7" font-size="12" text-anchor="middle" >10</text>
<text class="sb" x="537.77" y="288.7" font-size="12" text-anchor="middle" >20</text>
<text class="sb" x="573.62" y="288.7" font-size="12" text-anchor="middle" >30</text>
<text class="sb" x="609.48" y="288.7" font-size="12" text-anchor="middle" >40</text>
<text class="sb" x="594.6" y="257.8" font-size="14" text-anchor="start" >8 V</text>
<text class="sb" x="557" y="308" font-size="12" text-anchor="middle" >Conductance (nS)</text>
<text x="0" y="0" font-size="12" text-anchor="middle" transform="translate(450.0,227.0) rotate(-90)">Growth rate (nS s<tspan dy="-4" font-size="7">-1</tspan><tspan dy="4">)</tspan></text>
<text class="sb" x="429.9" y="159.8" font-size="19.5" text-anchor="start" >c)</text>
</svg>
</body></html>
